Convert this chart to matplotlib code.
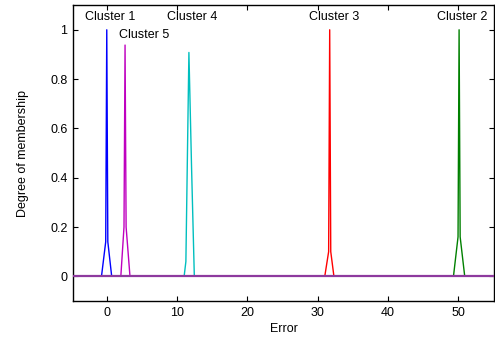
import matplotlib
matplotlib.use("Agg")
import matplotlib.pyplot as plt
import numpy as np

plt.rcParams['font.family'] = ['Liberation Sans', 'DejaVu Sans']

x_min, x_max = -4.8, 55.1

cluster_names = ["Cluster 1", "Cluster 2", "Cluster 3", "Cluster 4", "Cluster 5"]
cluster_colors = ["#0000ff", "#008000", "#ff0000", "#00bfbf", "#bf00bf"]
# membership curve points around each centre (x, degree)
curve_x = [
    [-0.75, -0.15, 0.0, 0.15, 0.7],
    [49.3, 49.95, 50.1, 50.25, 50.9],
    [31.0, 31.55, 31.7, 31.85, 32.3],
    [11.0, 11.25, 11.68, 12.05, 12.45],
    [2.0, 2.45, 2.6, 2.75, 3.3],
]
curve_y = [
    [0.0, 0.14, 1.0, 0.14, 0.0],
    [0.0, 0.16, 1.0, 0.16, 0.0],
    [0.0, 0.10, 1.0, 0.10, 0.0],
    [0.0, 0.06, 0.908, 0.45, 0.0],
    [0.0, 0.20, 0.938, 0.20, 0.0],
]
label_x = [0.5, 50.6, 32.3, 12.15, 5.34]
label_y = [1.052, 1.052, 1.052, 1.052, 0.98]

fig = plt.figure(figsize=(4.95, 3.42), dpi=100)
ax = fig.add_axes([0.1475, 0.12, 0.851, 0.865])

for name, c, xs, ys in zip(cluster_names, cluster_colors, curve_x, curve_y):
    xx = [x_min] + xs + [x_max]
    yy = [0.0] + ys + [0.0]
    ax.plot(xx, yy, color=c, lw=1.0)

# baseline appears purple where all zero-segments overlap
ax.plot([x_min, x_max], [0, 0], color="#8e3a9e", lw=1.6, zorder=3)

for name, lx, ly in zip(cluster_names, label_x, label_y):
    ax.text(lx, ly, name, ha="center", va="center", fontsize=9)

ax.set_xlim(x_min, x_max)
ax.set_ylim(-0.1, 1.1)
ax.set_xticks([0, 10, 20, 30, 40, 50])
ax.set_yticks([0, 0.2, 0.4, 0.6, 0.8, 1.0])
ax.set_yticklabels(["0", "0.2", "0.4", "0.6", "0.8", "1"])
ax.tick_params(direction="in", top=True, right=True, labelsize=9, length=3.5, width=0.8, pad=4)
for s in ax.spines.values():
    s.set_linewidth(1.0)
ax.set_xlabel("Error", fontsize=9, labelpad=3)
ax.set_ylabel("Degree of membership", fontsize=9, labelpad=15)

fig.savefig("out.png", dpi=100)
